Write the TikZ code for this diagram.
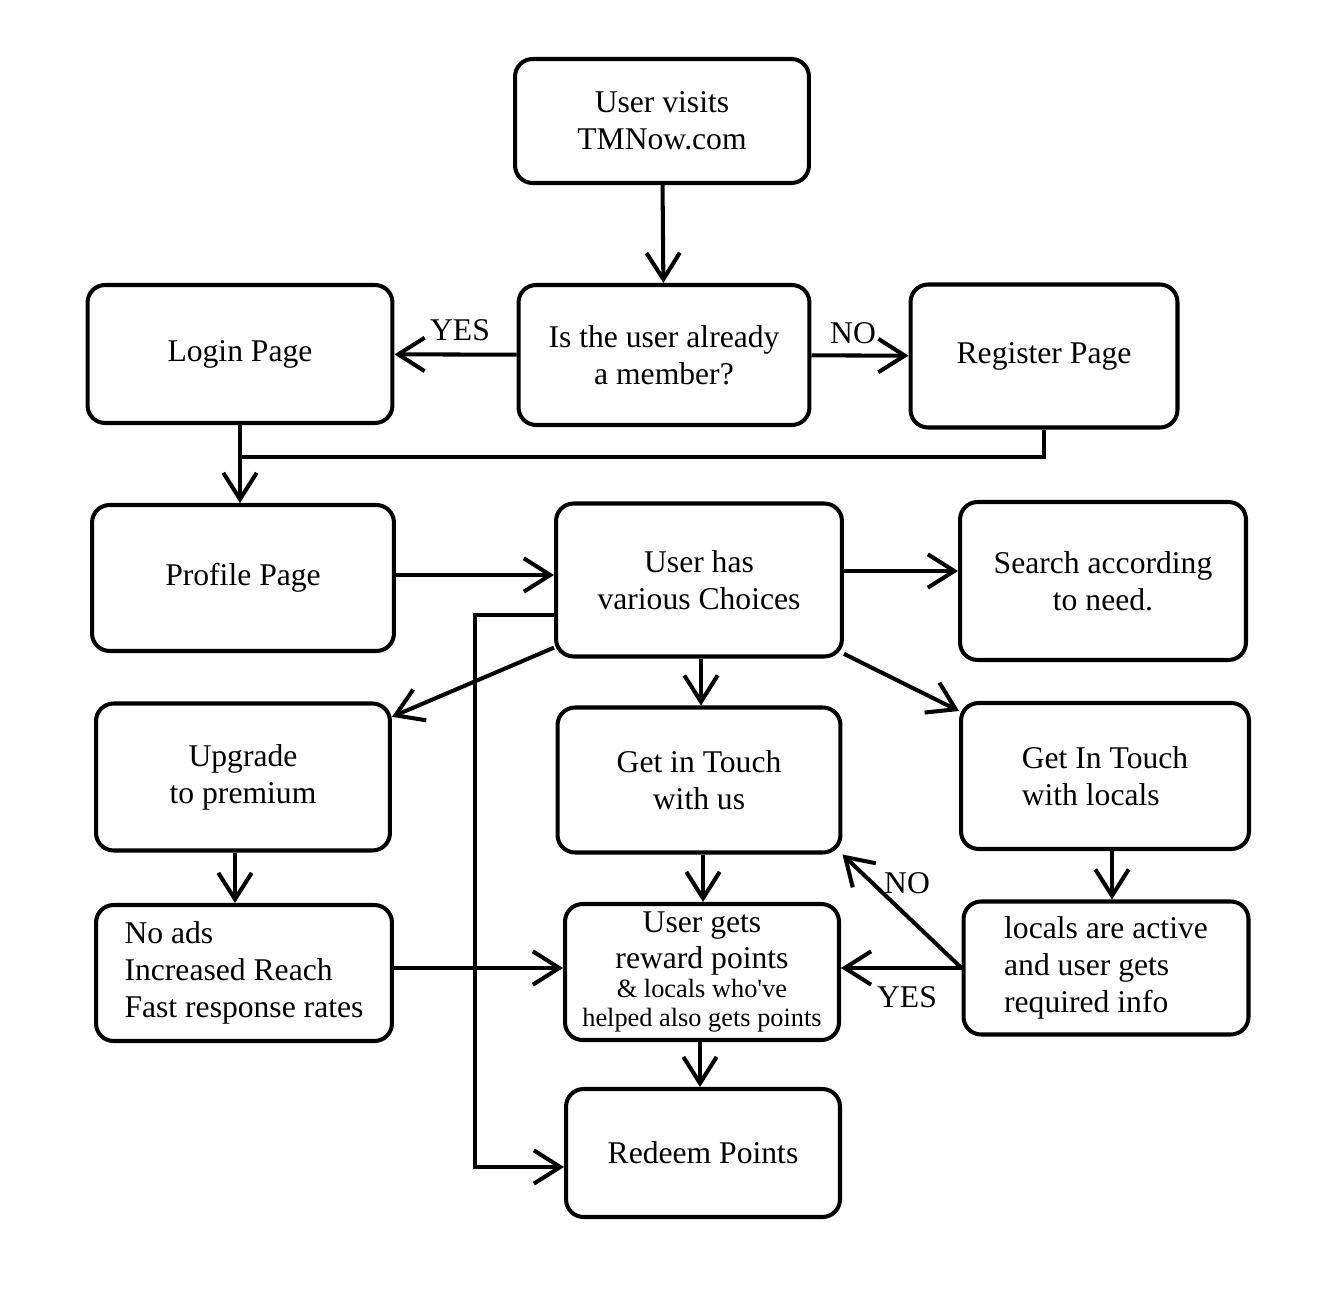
\documentclass[tikz,border=0pt]{standalone}
\usepackage{fontspec}
\setmainfont{Liberation Serif}
\usetikzlibrary{arrows.meta}

\begin{document}
\begin{tikzpicture}[x=0.02cm, y=-0.02cm, line width=2.3pt, font=\fontsize{18}{21}\selectfont,
	main/.style = {draw, rounded corners=10pt, align=center, minimum width=5.8cm, minimum height=2.8cm},
	arr/.style = {-{Straight Barb[length=15pt,width=19pt]}}]
	\useasboundingbox (0,0) rectangle (1333,1301);
	\node[main, minimum width=5.88cm, minimum height=2.48cm] (1) at (662,121) {User visits\\TMNow.com};
	\node[main, minimum width=5.82cm, minimum height=2.8cm] (2) at (664,355) {Is the user already\\a member?};
	\node[main, minimum width=6.1cm, minimum height=2.76cm] (3) at (240,354) {Login Page};
	\node[main, minimum width=5.34cm, minimum height=2.86cm] (4) at (1044,356) {Register Page};
	\node[main, minimum width=6.04cm, minimum height=2.92cm] (5) at (243,578) {Profile Page};
	\node[main, minimum width=5.72cm, minimum height=3.06cm] (6) at (699,580) {User has\\various Choices};
	\node[main, minimum width=5.72cm, minimum height=3.16cm] (7) at (1103,581) {Search according\\to need.};
	\node[main, minimum width=5.88cm, minimum height=2.94cm] (8) at (243,777) {Upgrade\\to premium};
	\node[main, minimum width=5.66cm, minimum height=2.9cm] (9) at (699,780) {Get in Touch\\ with us};
	\node[main, align=left, minimum width=5.76cm, minimum height=2.92cm] (10) at (1105,776) {Get In Touch\\with locals};
	\node[main, align=left, minimum width=5.92cm, minimum height=2.72cm] (11) at (244,973) {No ads\\Increased Reach\\Fast response rates};
	\node[main, minimum width=5.48cm, minimum height=2.72cm] (12) at (702,972) {User gets\\reward points\\[-5pt]{\fontsize{15}{17}\selectfont \& locals who\textquotesingle ve}\\[-4pt]{\fontsize{15}{17}\selectfont helped also gets points}};
	\node[main, align=left, minimum width=5.7cm, minimum height=2.66cm] (13) at (1106,968) {locals are active\\and user gets\\required info};
	\node[main, minimum width=5.48cm, minimum height=2.56cm] (14) at (703,1153) {Redeem Points};
	\node (yes1) at (460,330) {YES};
	\node (no1) at (853,333) {NO};
	\node (no2) at (907,883) {NO};
	\node (yes2) at (907,997) {YES};
	\coordinate (j) at (240,457);
	\coordinate (b) at (475,615);
	\draw[arr] (1) -- (2);
	\draw[arr] (2) -- (3);
	\draw[arr] (2) -- (4);
	\draw[arr] (3) -- (3 |- 5.north);
	\draw (4) |- (j);
	\draw[arr] (5.east |- 0,575) -- (6.west |- 0,575);
	\draw[arr] (6.east |- 0,571) -- (7.west |- 0,571);
	\draw[arr] (6.205) -- (8.22);
	\draw[arr] (6.south -| 701,0) -- (9.north -| 701,0);
	\draw[arr] (6.-27) -- (10.156);
	\draw[arr] (6.west |- b) -- (b) |- ([yshift=-0.28cm]14.west);
	\draw[arr] (8.south -| 235,0) -- (11.north -| 235,0);
	\draw[arr] (11.east |- 0,968) -- (12.west |- 0,968);
	\draw[arr] (9.south -| 703,0) -- (12.north -| 703,0);
	\draw[arr] (10.south -| 1112,0) -- (13.north -| 1112,0);
	\draw[arr] (13.west) -- (13.west -| 12.east);
	\draw[arr] (13.west) -- (9.south east);
	\draw[arr] (12.south -| 700,0) -- (14.north -| 700,0);
\end{tikzpicture}
\end{document}
